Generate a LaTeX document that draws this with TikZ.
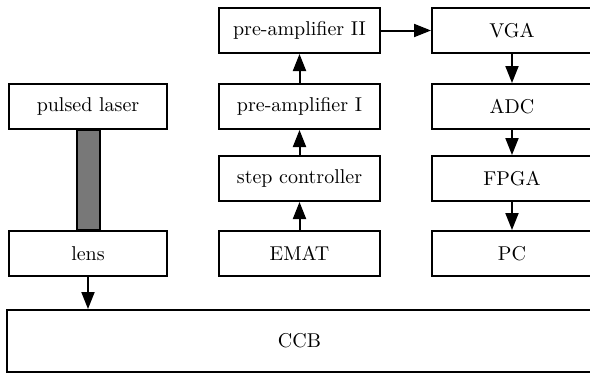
\documentclass[tikz,border=0pt]{standalone}
\usetikzlibrary{positioning, arrows.meta}

\begin{document}
\begin{tikzpicture}[x=0.5pt, y=-0.5pt, node distance=15pt,
    block/.style={draw, line width=1pt, minimum width=79pt, minimum height=22.5pt, inner sep=0pt},
    wideblock/.style={block, minimum width=80.5pt},
    arrow/.style={-{Triangle[length=8.5pt, width=6.5pt]}, line width=1pt},
    beam/.style={draw, line width=1pt, fill=black!53}]
    \useasboundingbox (0,0) rectangle (590,377);
    \clip (0,0) rectangle (590,377);
    % left column
    \node[block] (laser) at (88,106.5) {pulsed laser};
    \node[block] (lens) at (88,253.5) {lens};
    % middle column
    \node[wideblock] (preamp_2) at (299.5,30.5) {pre-amplifier II};
    \node[wideblock, below=14.5pt of preamp_2] (preamp_1) {pre-amplifier I};
    \node[wideblock, below=12.5pt of preamp_1] (stepctrl) {step controller};
    \node[wideblock, below=14pt of stepctrl] (emat) {EMAT};
    % right column
    \node[block, minimum width=80pt] (vga) at (512,30.5) {VGA};
    \node[block, minimum width=80pt, below=14.5pt of vga] (adc) {ADC};
    \node[block, minimum width=80pt, below=12.5pt of adc] (fpga) {FPGA};
    \node[block, minimum width=80pt, below=14pt of fpga] (pc) {PC};
    % bottom
    \node[block, minimum width=292.5pt, minimum height=31pt] (ccb) at (299.5,341) {CCB};

    \draw[beam] ([xshift=-5.75pt]laser.south) rectangle ([xshift=5.75pt]lens.north);
    \draw[arrow] (lens) -- (lens |- ccb.north);

    \draw[arrow] (emat) -- (stepctrl);
    \draw[arrow] (stepctrl) -- (preamp_1);
    \draw[arrow] (preamp_1) -- (preamp_2);
    \draw[arrow] (preamp_2) -- (vga);

    \draw[arrow] (vga) -- (adc);
    \draw[arrow] (adc) -- (fpga);
    \draw[arrow] (fpga) -- (pc);
\end{tikzpicture}
\end{document}
